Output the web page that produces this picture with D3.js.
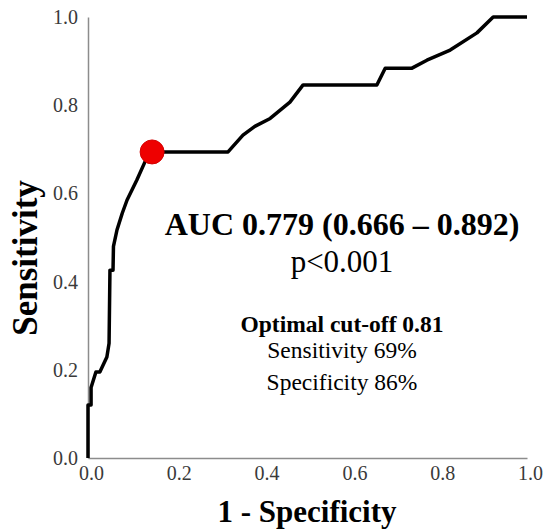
<!DOCTYPE html>
<html>
<head>
<meta charset="utf-8">
<script src="https://cdn.jsdelivr.net/npm/d3@7"></script>
<style>
  body { margin: 0; background: #fff; }
  text { font-family: "Liberation Serif", "Times New Roman", serif; }
</style>
</head>
<body>
<svg id="roc" width="543" height="532"></svg>
<script>

// roc curve (1 - specificity, sensitivity)
var fpr = [0, 0, 0.007, 0.007, 0.018, 0.027, 0.043, 0.048, 0.05, 0.057, 0.058, 0.066, 0.078, 0.089, 0.111, 0.13, 0.146,
           0.319, 0.353, 0.38, 0.415, 0.46, 0.49, 0.658, 0.677, 0.738, 0.772, 0.825, 0.886, 0.923, 1];
var tpr = [0, 0.12, 0.12, 0.16, 0.195, 0.195, 0.229, 0.26, 0.426, 0.426, 0.48, 0.517, 0.555, 0.585, 0.63, 0.672, 0.694,
           0.694, 0.732, 0.752, 0.77, 0.807, 0.846, 0.846, 0.884, 0.884, 0.902, 0.925, 0.964, 1, 1];

// optimal cut-off point
var cutX = [0.146];
var cutY = [0.694];

var tickValues = [0, 0.2, 0.4, 0.6, 0.8, 1.0];

var notes = ['AUC 0.779 (0.666 \u2013 0.892)', 'p<0.001', 'Optimal cut-off 0.81', 'Sensitivity 69%', 'Specificity 86%'];

var plotLeft = 88, plotRight = 527, plotTop = 17, plotBottom = 458;

var svg = d3.select('#roc');

var xScale = d3.scaleLinear().domain([0, 1]).range([plotLeft, plotRight]);
var yScale = d3.scaleLinear().domain([0, 1]).range([plotBottom, plotTop]);

// axes - gray lines, no tick marks
var yAxis = svg.append('g')
	.attr('transform', 'translate(' + plotLeft + ',0)')
	.call(d3.axisLeft(yScale).tickValues(tickValues).tickSize(0).tickPadding(10).tickFormat(d3.format('.1f')));

var xAxis = svg.append('g')
	.attr('transform', 'translate(0,' + plotBottom + ')')
	.call(d3.axisBottom(xScale).tickValues(tickValues).tickSize(0).tickPadding(8).tickFormat(d3.format('.1f')));

svg.selectAll('.domain').attr('stroke', '#8c8c8c').attr('stroke-width', 1.5);
svg.selectAll('.tick text')
	.attr('font-family', '"Liberation Serif", serif')
	.attr('font-size', 20)
	.attr('fill', '#3a3a3a');
xAxis.selectAll('.tick text').attr('dx', 3);

// curve
var pts = fpr.map(function(d, i){ return [d, tpr[i]]; });

var lineGen = d3.line()
	.x(function(d){ return xScale(d[0]); })
	.y(function(d){ return yScale(d[1]); });

svg.append('path')
	.datum(pts)
	.attr('fill', 'none')
	.attr('stroke', '#000')
	.attr('stroke-width', 3.5)
	.attr('stroke-linejoin', 'round')
	.attr('d', lineGen);

svg.selectAll('circle.cut')
	.data(cutX)
	.enter().append('circle')
	.attr('class', 'cut')
	.attr('cx', function(d){ return xScale(d); })
	.attr('cy', function(d, i){ return yScale(cutY[i]); })
	.attr('r', 12)
	.attr('fill', '#ee0000')
	.attr('stroke', '#d40000')
	.attr('stroke-width', 1);

// axis titles
svg.append('text')
	.attr('x', 307).attr('y', 522)
	.attr('text-anchor', 'middle')
	.attr('font-weight', 'bold')
	.attr('font-size', 31)
	.text('1 - Specificity');

svg.append('text')
	.attr('transform', 'translate(37,258) rotate(-90)')
	.attr('text-anchor', 'middle')
	.attr('font-weight', 'bold')
	.attr('font-size', 35)
	.text('Sensitivity');

// annotation block
var noteY = [235, 272, 332, 358, 390];
var noteSize = [32, 31, 23.5, 23.5, 23.5];
var noteBold = [true, false, true, false, false];

svg.selectAll('text.note')
	.data(notes)
	.enter().append('text')
	.attr('class', 'note')
	.attr('x', 342)
	.attr('y', function(d, i){ return noteY[i]; })
	.attr('text-anchor', 'middle')
	.attr('font-size', function(d, i){ return noteSize[i]; })
	.attr('font-weight', function(d, i){ return noteBold[i] ? 'bold' : 'normal'; })
	.attr('fill', '#000')
	.text(function(d){ return d; });

</script>
</body>
</html>
